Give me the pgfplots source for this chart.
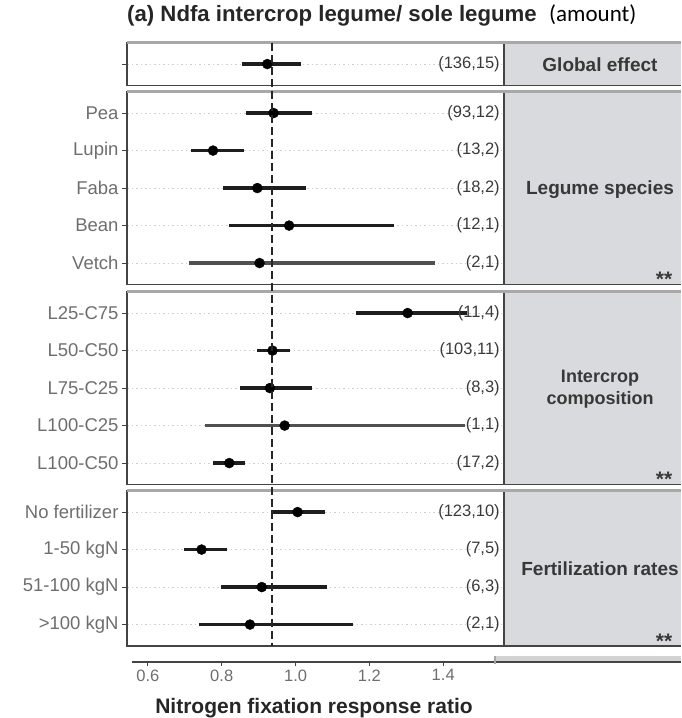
\documentclass[border=0pt]{standalone}
\usepackage{fontspec}
\setmainfont{Liberation Sans}
\newfontfamily\calibri{Carlito}
\usepackage{pgfplots}
\usepackage{pgfplotstable}
\pgfplotsset{compat=1.18}

\definecolor{framegray}{HTML}{444444}
\definecolor{topgray}{HTML}{A8A8A8}
\definecolor{stripgray}{HTML}{D9DADD}
\definecolor{tickgray}{HTML}{6E6E6E}
\definecolor{countgray}{HTML}{3A3A3A}
\definecolor{stripcol}{HTML}{383838}
\definecolor{cidark}{HTML}{1E1E1E}
\definecolor{cilight}{HTML}{505050}

% response ratio estimates with 95% CI; tone 1 = lighter CI line
\pgfplotstableread{
row est lo hi tone
1 0.923 0.855 1.015 0
}\globaltab
\pgfplotstableread{
row est lo hi tone
1 0.940 0.864 1.043 0
2 0.776 0.717 0.860 0
3 0.896 0.803 1.029 0
4 0.982 0.818 1.267 0
5 0.902 0.712 1.377 1
}\speciestab
\pgfplotstableread{
row est lo hi tone
1 1.303 1.164 1.465 0
2 0.937 0.895 0.985 0
3 0.930 0.849 1.044 0
4 0.970 0.755 1.459 1
5 0.820 0.775 0.863 0
}\compositiontab
\pgfplotstableread{
row est lo hi tone
1 1.005 0.934 1.079 0
2 0.745 0.698 0.814 0
3 0.908 0.798 1.084 0
4 0.876 0.737 1.155 0
}\fertiltab

\pgfplotsset{
  panel/.style={
    scale only axis, width=377pt,
    xmin=0.543, xmax=1.564, ymin=0.43,
    y dir=reverse, clip=false,
    axis line style={draw=framegray, line width=1.3pt},
    xtick=\empty, ytick pos=left,
    tick align=outside, major tick length=5pt,
    y tick style={draw=framegray, line width=1pt},
    yticklabel style={font=\fontsize{18.5}{20}\selectfont, text=tickgray},
    ymajorgrids,
    grid style={gray!38, dash pattern=on 1.5pt off 3pt, line width=1pt},
  },
  cibars/.style={
    only marks, mark=*, mark size=5pt,
    mark options={fill=black, draw=black},
    error bars/.cd, x dir=both, x explicit, error mark=none,
    error bar style={line width=3.2pt, draw=#1},
  },
}

\newcommand{\cirows}[1]{%
  \addplot[cibars=cidark] table[x=est, y=row,
    restrict expr to domain={\thisrow{tone}}{0:0},
    x error minus expr=\thisrow{est}-\thisrow{lo},
    x error plus expr=\thisrow{hi}-\thisrow{est}] {#1};
  \addplot[cibars=cilight] table[x=est, y=row,
    restrict expr to domain={\thisrow{tone}}{1:1},
    x error minus expr=\thisrow{est}-\thisrow{lo},
    x error plus expr=\thisrow{hi}-\thisrow{est}] {#1};
}
\newcommand{\countlabel}[2]{%
  \node[anchor=east, inner sep=0pt, text=countgray,
        font=\fontsize{16.5}{18}\selectfont] at (axis cs:1.553,#1) {#2};}

% facet strip to the right of a panel
\newcommand{\strip}[1]{%
  \fill[stripgray] ([xshift=0.6pt]#1.north east) rectangle ([xshift=177pt]#1.south east);
  \draw[framegray, line width=1.3pt] (#1.north east) -- (#1.south east);
  \draw[framegray, line width=1.3pt] (#1.south east) -- ++(177pt,0);
  \draw[topgray, line width=3pt] ([yshift=0.3pt]#1.north west) -- ([xshift=177pt, yshift=0.3pt]#1.north east);
}
\newcommand{\stars}[1]{%
  \node[text=stripcol, font=\bfseries\fontsize{21}{22}\selectfont, inner sep=0pt]
    at ([xshift=160pt, yshift=5pt]#1.south east) {**};}

\begin{document}
\begin{tikzpicture}[x=1pt, y=1pt]
\path[use as bounding box] (0,0) rectangle (681,718);

% title
\node[anchor=base west, inner sep=0pt, text=black!85]
  at (127,696.5) {\fontsize{22.2}{24}\selectfont\bfseries (a) Ndfa intercrop legume/ sole legume};
\node[anchor=base west, inner sep=0pt]
  at (549,696.5) {\calibri\fontsize{23}{26}\selectfont (amount)};

% global effect
\begin{axis}[panel, name=p1, at={(127pt,675.3pt)}, anchor=north west,
  height=42.75pt, ymax=1.57, ytick={1}, yticklabels={}]
  \cirows{\globaltab}
  \countlabel{1}{(136,15)}
  \coordinate (dtop) at (axis cs:0.935,0.43);
\end{axis}
\strip{p1}
\node[text=stripcol, font=\bfseries\fontsize{19}{21}\selectfont] at (600,653) {Global effect};

% legume species
\begin{axis}[panel, name=p2, at={(127pt,626.3pt)}, anchor=north west,
  height=192.75pt, ymax=5.57, ytick={1,2,3,4,5},
  yticklabels={Pea,Lupin,Faba,Bean,Vetch}]
  \cirows{\speciestab}
  \countlabel{1}{(93,12)}
  \countlabel{2}{(13,2)}
  \countlabel{3}{(18,2)}
  \countlabel{4}{(12,1)}
  \countlabel{5}{(2,1)}
\end{axis}
\strip{p2}
\node[text=stripcol, font=\bfseries\fontsize{19}{21}\selectfont] at (600,528) {Legume species};
\stars{p2}

% intercrop composition
\begin{axis}[panel, name=p3, at={(127pt,426.3pt)}, anchor=north west,
  height=192.75pt, ymax=5.57, ytick={1,2,3,4,5},
  yticklabels={L25-C75,L50-C50,L75-C25,L100-C25,L100-C50}]
  \cirows{\compositiontab}
  \countlabel{1}{(11,4)}
  \countlabel{2}{(103,11)}
  \countlabel{3}{(8,3)}
  \countlabel{4}{(1,1)}
  \countlabel{5}{(17,2)}
\end{axis}
\strip{p3}
\node[text=stripcol, font=\bfseries\fontsize{18}{22}\selectfont, align=center] at (600,329) {Intercrop\\composition};
\stars{p3}

% fertilization rates
\begin{axis}[panel, name=p4, at={(127pt,227.3pt)}, anchor=north west,
  height=155.25pt, ymax=4.57, ytick={1,2,3,4},
  yticklabels={No fertilizer,1-50 kgN,51-100 kgN,>100 kgN}]
  \cirows{\fertiltab}
  \countlabel{1}{(123,10)}
  \countlabel{2}{(7,5)}
  \countlabel{3}{(6,3)}
  \countlabel{4}{(2,1)}
  \coordinate (dbot) at (axis cs:0.935,4.57);
\end{axis}
\strip{p4}
\node[text=stripcol, font=\bfseries\fontsize{19}{21}\selectfont] at (600,149) {Fertilization rates};
\stars{p4}

% shared x axis
\begin{axis}[name=bx, at={(132pt,56pt)}, anchor=south west,
  scale only axis, width=364pt, height=1pt,
  xmin=0.557, xmax=1.543, ymin=0, ymax=1,
  axis x line=bottom, axis y line=none,
  x axis line style={-, draw=framegray, line width=1.3pt},
  xtick={0.6,0.8,1.0,1.2,1.4},
  tick align=outside, major tick length=4pt,
  x tick style={draw=framegray, line width=1pt},
  /pgf/number format/assume math mode=true,
  xticklabel={\pgfmathprintnumber[fixed,fixed zerofill,precision=1]{\tick}},
  xticklabel style={font=\fontsize{16.5}{18}\selectfont, text=tickgray}]
  \addplot[draw=none] coordinates {(0.6,0) (1.4,0)};
\end{axis}
\fill[gray!35] (495,56) rectangle (681,62);
\draw[framegray, line width=1.3pt] (495,56) -- (681,56);
\draw[gray!70, line width=1.5pt] (495,54) -- (495,62);

\node[anchor=base, inner sep=0pt, text=black!85]
  at (314,5) {\fontsize{21}{24}\selectfont\bfseries Nitrogen fixation response ratio};

% reference line at the pooled ratio
\draw[black!85, line width=2pt, dash pattern=on 8pt off 4pt] (dtop) -- (dbot);
\end{tikzpicture}
\end{document}
